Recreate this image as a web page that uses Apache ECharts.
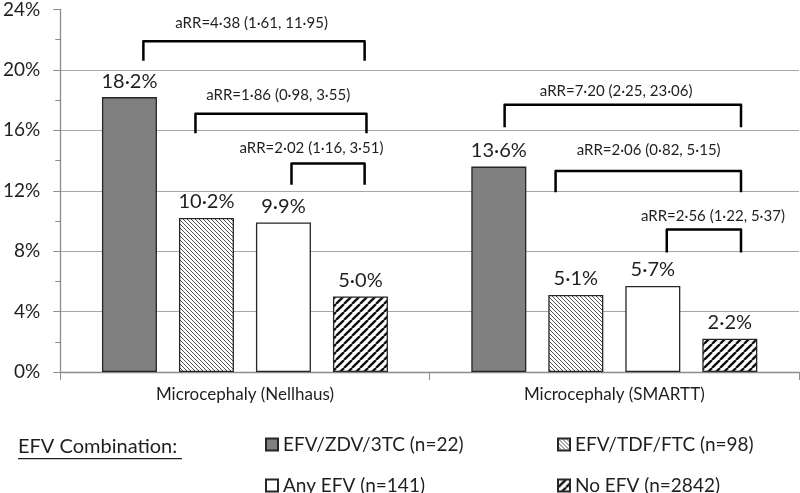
<!DOCTYPE html>
<html>
<head>
<meta charset="utf-8">
<script src="https://cdn.jsdelivr.net/npm/echarts@6/dist/echarts.min.js"></script>
<style>
  html, body { margin: 0; padding: 0; background: #fff; }
  #chart { width: 800px; height: 493px; }
</style>
</head>
<body>
<div id="chart"></div>
<script>
// categories and values (percent)
const categories = ['Microcephaly (Nellhaus)', 'Microcephaly (SMARTT)']
const seriesNames = ['EFV/ZDV/3TC (n=22)', 'EFV/TDF/FTC (n=98)', 'Any EFV (n=141)', 'No EFV (n=2842)']
const efvZdv3tc = [18.2, 13.6]
const efvTdfFtc = [10.2, 5.1]
const anyEfv = [9.9, 5.7]
const noEfv = [5.0, 2.2]
const yTicks = [0, 4, 8, 12, 16, 20, 24]

// brackets: category, left/right leg (fraction of category width from centre), top / leg end (%), label
const brackets = [
    { cat: 0, x0: -0.275, x1: 0.324, top: 21.9, leg: 20.6, lx: 0.018, ly: 23.1, text: 'aRR=4·38 (1·61, 11·95)' },
    { cat: 0, x0: -0.134, x1: 0.329, top: 17.1, leg: 15.8, lx: 0.090, ly: 18.3, text: 'aRR=1·86 (0·98, 3·55)' },
    { cat: 0, x0: 0.126, x1: 0.324, top: 13.8, leg: 12.4, lx: 0.180, ly: 14.8, text: 'aRR=2·02 (1·16, 3·51)' },
    { cat: 1, x0: -0.297, x1: 0.343, top: 17.7, leg: 16.2, lx: 0.005, ly: 18.6, text: 'aRR=7·20 (2·25, 23·06)' },
    { cat: 1, x0: -0.159, x1: 0.343, top: 13.3, leg: 11.9, lx: 0.093, ly: 14.7, text: 'aRR=2·06 (0·82, 5·15)' },
    { cat: 1, x0: 0.142, x1: 0.343, top: 9.43, leg: 7.91, lx: 0.267, ly: 10.3, text: 'aRR=2·56 (1·22, 5·37)' }
]

const FONT = 'Lato, "Open Sans", sans-serif'
const TEXT = '#1f1f1f'
const EDGE = '#262626'

// 斜线填充
function hatch(size, lw, color, dir) {
    const c = document.createElement('canvas')
    c.width = size
    c.height = size
    const ctx = c.getContext('2d')
    ctx.fillStyle = '#fff'
    ctx.fillRect(0, 0, size, size)
    ctx.strokeStyle = color
    ctx.lineWidth = lw
    for (let k = -1; k <= 1; k++) {
        ctx.beginPath()
        if (dir === '/') {
            ctx.moveTo(k * size, size)
            ctx.lineTo(k * size + size, 0)
        } else {
            ctx.moveTo(k * size, 0)
            ctx.lineTo(k * size + size, size)
        }
        ctx.stroke()
    }
    return { image: c, repeat: 'repeat' }
}

const fills = ['#808080', hatch(4, 1, '#555', '\\'), '#ffffff', hatch(8, 2.4, '#111', '/')]
const values = [efvZdv3tc, efvTdfFtc, anyEfv, noEfv]

const chart = echarts.init(document.getElementById('chart'))

const barSeries = values.map((arr, i) => ({
    name: seriesNames[i],
    type: 'bar',
    data: arr,
    barWidth: 55,
    barGap: '40%',
    itemStyle: { color: fills[i], borderColor: EDGE, borderWidth: 1.3 },
    label: {
        show: true,
        position: 'top',
        distance: 6,
        fontFamily: FONT,
        fontSize: 20,
        color: TEXT,
        formatter: p => p.value.toFixed(1).replace('.', '·') + '%'
    }
}))

const bracketSeries = {
    type: 'custom',
    silent: true,
    z: 5,
    data: brackets.map(b => [b.cat, b.top]),
    renderItem: (params, api) => {
        const b = brackets[params.dataIndex]
        const w = api.size([1, 0])[0]
        const c = api.coord([b.cat, 0])[0]
        const yTop = api.coord([b.cat, b.top])[1]
        const yLeg = api.coord([b.cat, b.leg])[1]
        const yLab = api.coord([b.cat, b.ly])[1]
        const x0 = c + b.x0 * w
        const x1 = c + b.x1 * w
        return {
            type: 'group',
            children: [
                {
                    type: 'polyline',
                    shape: { points: [[x0, yLeg], [x0, yTop], [x1, yTop], [x1, yLeg]] },
                    style: { stroke: '#000', lineWidth: 2.5, fill: null, lineJoin: 'round' }
                },
                {
                    type: 'text',
                    x: c + b.lx * w,
                    y: yLab,
                    style: {
                        text: b.text,
                        fill: TEXT,
                        font: '15px ' + FONT,
                        align: 'center',
                        verticalAlign: 'middle'
                    }
                }
            ]
        }
    }
}

// one legend per item, 2x2 grid
const legendSpots = [[265, 435], [557, 435], [265, 476], [557, 476]]
const legends = seriesNames.map((name, i) => ({
    left: legendSpots[i][0],
    top: legendSpots[i][1],
    padding: 0,
    data: [name],
    itemWidth: 12,
    itemHeight: 12,
    icon: 'rect',
    selectedMode: false,
    textStyle: { fontFamily: FONT, fontSize: 19, color: TEXT }
}))

const option = {
    animation: false,
    grid: { left: 59, right: 1, top: 8, bottom: 121 },
    legend: legends,
    graphic: [
        {
            type: 'text',
            left: 18,
            top: 437,
            style: { text: 'EFV Combination:', fill: TEXT, font: '20px ' + FONT }
        },
        {
            type: 'rect',
            left: 18,
            top: 458,
            shape: { width: 164, height: 1.3 },
            style: { fill: TEXT }
        }
    ],
    xAxis: {
        type: 'category',
        data: categories,
        axisLine: { lineStyle: { color: '#8c8c8c', width: 1.3 } },
        axisTick: { show: true, length: 8, lineStyle: { color: '#8c8c8c' } },
        axisLabel: { margin: 14, fontFamily: FONT, fontSize: 17, color: TEXT }
    },
    yAxis: {
        type: 'value',
        min: yTicks[0],
        max: yTicks[yTicks.length - 1],
        interval: 4,
        axisLine: { show: true, lineStyle: { color: '#8c8c8c', width: 1.3 } },
        axisTick: { show: true, length: 7, lineStyle: { color: '#8c8c8c' } },
        minorTick: { show: true, splitNumber: 2, length: 5, lineStyle: { color: '#8c8c8c' } },
        splitLine: {
            lineStyle: {
                color: yTicks.map((t, i) => (i === yTicks.length - 1 ? 'transparent' : '#a6a6a6')),
                width: 1.2
            }
        },
        axisLabel: { margin: 20, fontFamily: FONT, fontSize: 19, color: TEXT, formatter: '{value}%' }
    },
    series: [...barSeries, bracketSeries]
}

chart.setOption(option)
</script>
</body>
</html>
